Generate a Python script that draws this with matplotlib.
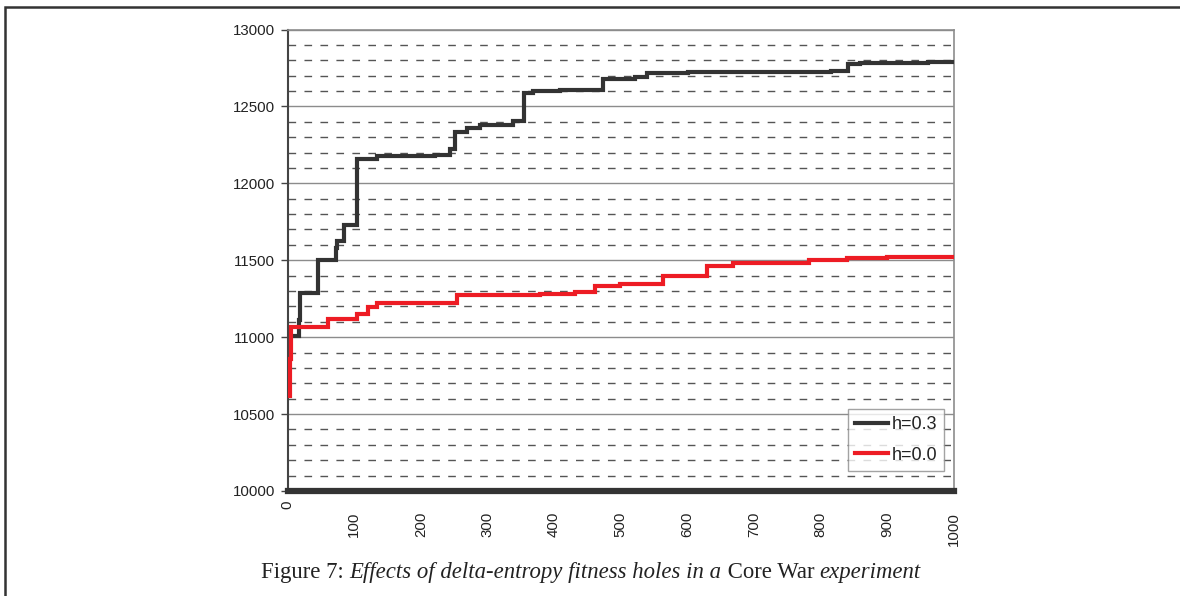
import matplotlib
matplotlib.use("Agg")
import matplotlib.pyplot as plt
from matplotlib.patches import Rectangle
from matplotlib.ticker import MultipleLocator
from matplotlib.transforms import ScaledTranslation

# ---- data ----
black_x = [5, 18, 19, 46, 73, 75, 85, 104, 134, 221, 244, 251, 269, 289, 339, 355,
           368, 409, 473, 521, 539, 601, 816, 841, 859, 961, 1000]
black_y = [11005, 11110, 11290, 11500, 11580, 11625, 11730, 12160, 12175, 12185, 12225,
           12335, 12358, 12380, 12405, 12590, 12597, 12605, 12675, 12690, 12715, 12722,
           12730, 12776, 12780, 12790, 12790]

red_x = [2, 4, 5, 61, 104, 121, 134, 255, 379, 431, 461, 499, 564, 629, 669, 783,
         839, 899, 1000]
red_y = [10620, 10860, 11065, 11118, 11150, 11198, 11220, 11272, 11280, 11295, 11335,
         11345, 11398, 11465, 11480, 11502, 11513, 11520, 11520]

labels = ["h=0.3", "h=0.0"]
x_ticks = list(range(0, 1001, 100))
y_ticks = list(range(10000, 13001, 500))

caption_parts = [("Figure 7: ", "normal"),
                 ("Effects of delta-entropy fitness holes in a", "italic"),
                 (" Core War ", "normal"),
                 ("experiment", "italic")]

W, H = 1180, 596
fig = plt.figure(figsize=(W / 100, H / 100), dpi=100)
fig.patch.set_facecolor("white")

ax = fig.add_axes([287.5 / W, 1 - 491 / H, 666.5 / W, 461.5 / H])
ax.set_xlim(0, 1000)
ax.set_ylim(10000, 13000)

# grid
ax.yaxis.set_major_locator(MultipleLocator(500))
ax.yaxis.set_minor_locator(MultipleLocator(100))
ax.set_yticks(y_ticks)
ax.set_xticks(x_ticks)
ax.grid(axis="y", which="major", color="#8c8c8c", lw=1.0, ls="-")
ax.grid(axis="y", which="minor", color="#555555", lw=1.0, ls=(0, (5.5, 6)))
ax.set_axisbelow(True)

ax.step(black_x, black_y, where="post", color="#333333", lw=3.0, label=labels[0],
        zorder=3, solid_joinstyle="miter")
ax.step(red_x, red_y, where="post", color="#ED1C24", lw=3.0, label=labels[1],
        zorder=3, solid_joinstyle="miter")

# thick base line at 10000
ax.axhline(10000, color="#333333", lw=4.5, zorder=4, clip_on=False)

for s in ["top", "right"]:
    ax.spines[s].set_color("#8c8c8c")
    ax.spines[s].set_linewidth(1.2)
ax.spines["left"].set_color("#444444")
ax.spines["left"].set_linewidth(1.5)
ax.spines["bottom"].set_visible(False)

ax.tick_params(axis="y", which="major", length=5, width=1, color="#444444",
               labelsize=10.8, labelcolor="#222222", pad=4)
ax.tick_params(axis="y", which="minor", length=0)
ax.tick_params(axis="x", which="both", length=0, labelsize=10.8,
               labelcolor="#222222", pad=15, labelrotation=90)
ax.set_xticklabels([str(v) for v in x_ticks], va="top", ha="center")
for t in ax.get_xticklabels() + ax.get_yticklabels():
    t.set_fontfamily("Liberation Sans")
# the "0" label sits higher in the reference
xl0 = ax.get_xticklabels()[0]
xl0.set_transform(xl0.get_transform() + ScaledTranslation(0, 11 / 100, fig.dpi_scale_trans))

leg = ax.legend(loc="upper left", bbox_to_anchor=(0.841, 0.1777), borderaxespad=0,
                frameon=True, fancybox=False, edgecolor="#8c8c8c", handlelength=1.8,
                handletextpad=0.2, borderpad=0.4, labelspacing=0.75,
                prop={"family": "Liberation Sans", "size": 13})
leg.get_frame().set_linewidth(1.0)
for t in leg.get_texts():
    t.set_color("#222222")

# figure frame
fig.patches.append(Rectangle((5 / W, -0.2), 1.2, 1.2 - 7 / H,
                             transform=fig.transFigure, fill=False,
                             edgecolor="#333333", lw=1.8, clip_on=False))

# caption with mixed styles, centred
renderer = fig.canvas.get_renderer()
texts = []
widths = []
for s, style in caption_parts:
    t = fig.text(0, 1 - 578 / H, s, fontsize=16.4, family="Liberation Serif",
                 style=style, color="#222222", va="baseline", ha="left")
    texts.append(t)
    widths.append(t.get_window_extent(renderer).width)
total = sum(widths)
x = 591 - total / 2
for t, w in zip(texts, widths):
    t.set_x(x / W)
    x += w

fig.savefig("out.png", dpi=100, facecolor="white")
